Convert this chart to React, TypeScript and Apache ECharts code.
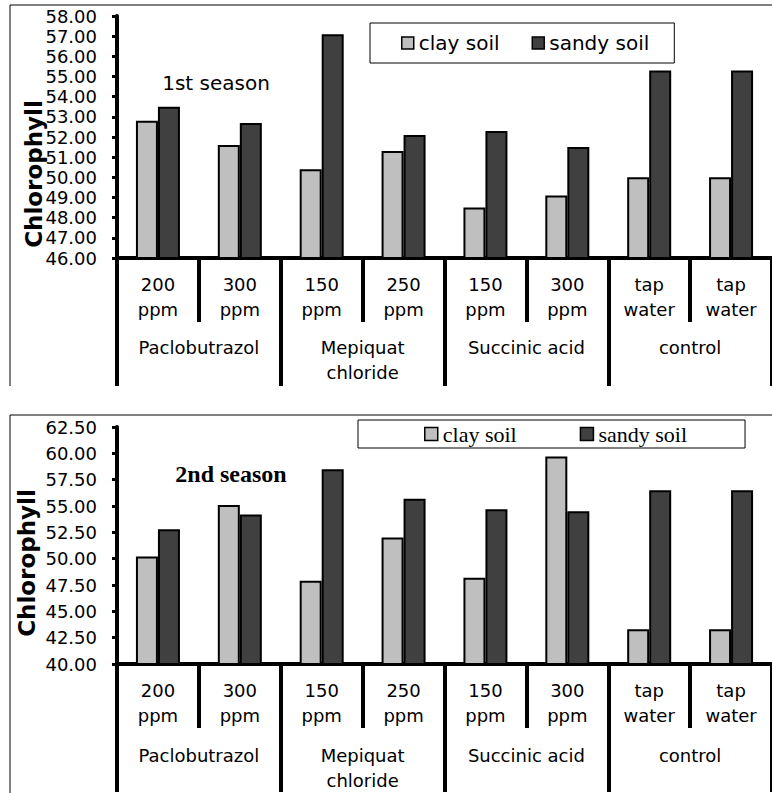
import React, { useEffect, useRef } from "react";
import * as echarts from "echarts";

// ---- data ----
const treatments = ["P200", "P300", "M150", "M250", "S150", "S300", "C1", "C2"];
const doseLabels = ["200\nppm", "300\nppm", "150\nppm", "250\nppm", "150\nppm", "300\nppm", "tap\nwater", "tap\nwater"];
const groups = ["Paclobutrazol", "Mepiquat\nchloride", "Succinic acid", "control"];
const seriesNames = ["clay soil", "sandy soil"];

const season1Clay = [52.8, 51.6, 50.4, 51.3, 48.5, 49.1, 50.0, 50.0];
const season1Sandy = [53.5, 52.7, 57.1, 52.1, 52.3, 51.5, 55.3, 55.3];
const season2Clay = [50.2, 55.1, 47.9, 52.0, 48.2, 59.7, 43.3, 43.3];
const season2Sandy = [52.8, 54.2, 58.5, 55.7, 54.7, 54.5, 56.5, 56.5];

const season1Range = { min: 46, max: 58, interval: 1 };
const season2Range = { min: 40, max: 62.5, interval: 2.5 };
const seasonTitles = ["1st season", "2nd season"];
const yTitle = "Chlorophyll";

const CLAY = "#bfbfbf";
const SANDY = "#404040";
const SANS = "DejaVu Sans";
const SERIF = "Liberation Serif";

export default function App() {
  const ref = useRef<HTMLDivElement>(null);
  useEffect(() => {
    if (!ref.current) return;
    const chart = echarts.init(ref.current, undefined, { renderer: "svg" });

    const grids = [
      { left: 117, top: 16, width: 659, height: 242 },
      { left: 117, top: 427, width: 659, height: 239 },
    ];

    const xAxes: any[] = [];
    const yAxes: any[] = [];
    const ranges = [season1Range, season2Range];
    [0, 1].forEach((g) => {
      xAxes.push({
        type: "category",
        gridIndex: g,
        data: treatments,
        position: "bottom",
        axisLine: { show: true, lineStyle: { color: "#000", width: 4 } },
        axisTick: { show: true, interval: 0, length: 64, lineStyle: { color: "#000", width: 4 } },
        axisLabel: {
          interval: 0,
          formatter: (_v: string, i: number) => doseLabels[i],
          margin: 14,
          lineHeight: 25,
          fontSize: 18,
          fontFamily: SANS,
          color: "#000",
        },
      });
      xAxes.push({
        type: "category",
        gridIndex: g,
        data: groups,
        position: "bottom",
        axisLine: { show: false },
        axisTick: { show: true, interval: 0, length: 128, lineStyle: { color: "#000", width: 4 } },
        axisLabel: {
          interval: 0,
          margin: g === 0 ? 77 : 79,
          lineHeight: 25,
          fontSize: 18,
          fontFamily: SANS,
          color: "#000",
        },
      });
      yAxes.push({
        type: "value",
        gridIndex: g,
        min: ranges[g].min,
        max: ranges[g].max,
        interval: ranges[g].interval,
        axisLine: { show: true, lineStyle: { color: "#000", width: 4 } },
        axisTick: { show: true, length: 5, lineStyle: { color: "#000", width: 3 } },
        splitLine: { show: false },
        axisLabel: {
          formatter: (v: number) => v.toFixed(2),
          fontSize: 18,
          fontFamily: SANS,
          color: "#000",
          margin: 20,
        },
      });
    });

    const mkSeries = (name: string, data: number[], color: string, g: number) => ({
      type: "bar",
      name,
      xAxisIndex: g * 2,
      yAxisIndex: g,
      data,
      barWidth: 22,
      barGap: "0%",
      itemStyle: { color, borderColor: "#000", borderWidth: 2 },
    });

    const line = (x1: number, y1: number, x2: number, y2: number) => ({
      type: "line",
      shape: { x1, y1, x2, y2 },
      style: { stroke: "#000", lineWidth: 1 },
    });

    const yName = (x: number, y: number) => ({
      type: "text",
      x,
      y,
      rotation: Math.PI / 2,
      style: {
        text: yTitle,
        font: `bold 23px '${SANS}'`,
        fill: "#000",
        align: "center",
        verticalAlign: "middle",
      },
    });

    chart.setOption({
      animation: false,
      backgroundColor: "#fff",
      grid: grids,
      xAxis: xAxes,
      yAxis: yAxes,
      legend: [
        {
          data: seriesNames,
          left: 370,
          top: 23,
          orient: "horizontal",
          padding: [10, 25, 10, 31],
          itemGap: 32,
          itemWidth: 12,
          itemHeight: 12,
          icon: "rect",
          borderColor: "#000",
          borderWidth: 1,
          itemStyle: { borderColor: "#000", borderWidth: 1.5 },
          textStyle: { fontFamily: SANS, fontSize: 20, color: "#000" },
        },
        {
          data: seriesNames,
          left: 358,
          top: 420,
          orient: "horizontal",
          padding: [3, 58, 3, 66],
          itemGap: 63,
          itemWidth: 13,
          itemHeight: 13,
          icon: "rect",
          borderColor: "#000",
          borderWidth: 1,
          itemStyle: { borderColor: "#000", borderWidth: 1.5 },
          textStyle: { fontFamily: SERIF, fontSize: 22, color: "#000" },
        },
      ],
      series: [
        mkSeries(seriesNames[0], season1Clay, CLAY, 0),
        mkSeries(seriesNames[1], season1Sandy, SANDY, 0),
        mkSeries(seriesNames[0], season2Clay, CLAY, 1),
        mkSeries(seriesNames[1], season2Sandy, SANDY, 1),
      ],
      graphic: [
        line(10, 5, 772, 5),
        line(10, 5, 10, 386),
        line(10, 415, 772, 415),
        line(10, 415, 10, 793),
        yName(34, 174),
        yName(27, 563),
        {
          type: "text",
          x: 216,
          y: 83,
          style: { text: seasonTitles[0], font: `20px '${SANS}'`, fill: "#000", align: "center", verticalAlign: "middle" },
        },
        {
          type: "text",
          x: 231,
          y: 474,
          style: { text: seasonTitles[1], font: `bold 24px '${SERIF}'`, fill: "#000", align: "center", verticalAlign: "middle" },
        },
      ],
    });
    return () => chart.dispose();
  }, []);
  return (
    <div
      ref={ref}
      style={{ position: "absolute", left: 0, top: 0, width: 772, height: 793, background: "#fff" }}
    />
  );
}
